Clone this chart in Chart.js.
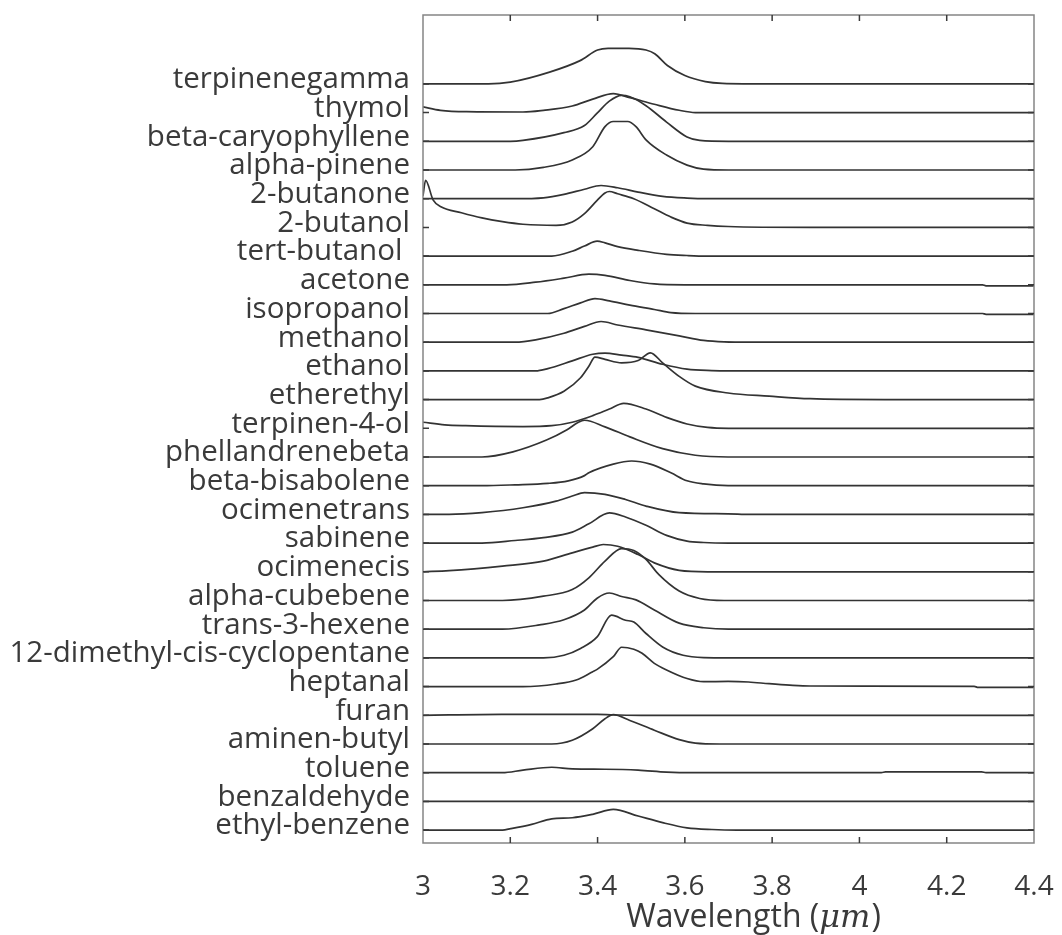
<!DOCTYPE html>
<html>
<head>
<meta charset="utf-8">
<title>Spectra</title>
<script src="https://cdn.jsdelivr.net/npm/chart.js@4.4.1/dist/chart.umd.min.js"></script>
<style>
  html, body { margin: 0; padding: 0; background: #fff; }
  #wrap { width: 1062px; height: 935px; }
</style>
</head>
<body>
<div id="wrap"><canvas id="spectra" width="1062" height="935"></canvas></div>
<script>
// compound names, top row first
var compounds = [
    'terpinenegamma', 'thymol', 'beta-caryophyllene', 'alpha-pinene', '2-butanone',
    '2-butanol', 'tert-butanol ', 'acetone', 'isopropanol', 'methanol', 'ethanol',
    'etherethyl', 'terpinen-4-ol', 'phellandrenebeta', 'beta-bisabolene', 'ocimenetrans',
    'sabinene', 'ocimenecis', 'alpha-cubebene', 'trans-3-hexene',
    '12-dimethyl-cis-cyclopentane', 'heptanal', 'furan', 'aminen-butyl', 'toluene',
    'benzaldehyde', 'ethyl-benzene'
];

var wavelengthTicks = [3, 3.2, 3.4, 3.6, 3.8, 4, 4.2, 4.4];

// [wavelength (um), signal above the row baseline]
var terpinenegamma = [[3,0],[3.15,0],[3.2,0.06],[3.29,0.41],[3.36,0.81],[3.40,1.18],[3.424,1.24],[3.472,1.24],[3.511,1.18],[3.531,1.05],[3.56,0.64],[3.6,0.29],[3.647,0.08],[3.686,0.02],[3.8,0],[4.4,0]];
var thymol = [[3,0.2],[3.04,0.08],[3.1,0.03],[3.229,0.02],[3.276,0.08],[3.342,0.23],[3.389,0.47],[3.436,0.66],[3.474,0.52],[3.53,0.29],[3.587,0.08],[3.624,0],[4.4,0]];
var betaCaryophyllene = [[3,0],[3.2,0],[3.229,0.03],[3.323,0.3],[3.37,0.55],[3.399,0.98],[3.427,1.4],[3.455,1.6],[3.474,1.55],[3.511,1.24],[3.558,0.67],[3.605,0.15],[3.634,0.03],[3.7,0],[4.4,0]];
var alphaPinene = [[3,0],[3.211,0],[3.276,0.09],[3.342,0.35],[3.389,0.81],[3.417,1.51],[3.436,1.69],[3.469,1.69],[3.488,1.51],[3.511,1.05],[3.558,0.52],[3.605,0.17],[3.643,0.03],[3.7,0],[4.4,0]];
var butanone2 = [[3,0],[3.211,0],[3.276,0.03],[3.323,0.15],[3.37,0.33],[3.408,0.46],[3.446,0.38],[3.493,0.23],[3.549,0.08],[3.605,0.02],[3.65,0],[4.4,0]];
var butanol2 = [[3,1.1],[3.006,1.64],[3.023,0.96],[3.041,0.72],[3.088,0.51],[3.135,0.33],[3.182,0.2],[3.229,0.11],[3.305,0.07],[3.342,0.19],[3.37,0.48],[3.399,0.94],[3.417,1.2],[3.427,1.25],[3.446,1.17],[3.483,1.0],[3.53,0.65],[3.568,0.36],[3.605,0.15],[3.652,0.07],[3.699,0.03],[3.887,0],[4.4,0]];
var tertButanol = [[3,0],[3.295,0],[3.342,0.17],[3.37,0.35],[3.399,0.52],[3.417,0.46],[3.446,0.33],[3.493,0.2],[3.558,0.06],[3.605,0.02],[3.65,0],[4.4,0]];
var acetone = [[3,0],[3.192,0],[3.258,0.09],[3.323,0.23],[3.38,0.37],[3.417,0.33],[3.474,0.15],[3.53,0.03],[3.6,0],[4.282,0],[4.29,-0.04],[4.4,-0.04]];
var isopropanol = [[3,0],[3.286,0],[3.323,0.17],[3.361,0.37],[3.394,0.52],[3.427,0.44],[3.474,0.29],[3.53,0.14],[3.568,0.03],[3.624,0],[4.282,0],[4.29,-0.03],[4.4,-0.03]];
var methanol = [[3,0],[3.211,0],[3.258,0.08],[3.323,0.31],[3.37,0.55],[3.408,0.72],[3.446,0.6],[3.511,0.43],[3.587,0.22],[3.643,0.06],[3.69,0.01],[3.75,0],[4.4,0]];
var ethanol = [[3,0],[3.258,0],[3.286,0.08],[3.342,0.35],[3.389,0.58],[3.417,0.62],[3.455,0.55],[3.493,0.47],[3.549,0.23],[3.605,0.06],[3.662,0.01],[3.7,0],[4.4,0]];
var etherethyl = [[3,0],[3.267,0],[3.286,0.06],[3.323,0.29],[3.361,0.76],[3.38,1.16],[3.394,1.48],[3.417,1.4],[3.455,1.28],[3.493,1.36],[3.521,1.63],[3.549,1.28],[3.587,0.81],[3.624,0.47],[3.699,0.23],[3.793,0.12],[3.887,0.03],[4.057,0],[4.4,0]];
var terpinen4ol = [[3,0.21],[3.05,0.12],[3.098,0.09],[3.229,0.06],[3.295,0.09],[3.342,0.21],[3.389,0.44],[3.427,0.67],[3.46,0.87],[3.511,0.67],[3.558,0.38],[3.605,0.15],[3.652,0.03],[3.7,0],[4.4,0]];
var phellandrenebeta = [[3,0],[3.135,0],[3.206,0.18],[3.283,0.59],[3.33,0.95],[3.355,1.2],[3.37,1.28],[3.417,1.05],[3.474,0.7],[3.549,0.29],[3.624,0.06],[3.699,0],[4.4,0]];
var betaBisabolene = [[3,0],[3.135,0],[3.211,0.03],[3.286,0.08],[3.333,0.17],[3.37,0.35],[3.38,0.45],[3.436,0.75],[3.478,0.86],[3.521,0.75],[3.568,0.45],[3.605,0.17],[3.643,0.06],[3.699,0],[4.4,0]];
var ocimenetrans = [[3,0],[3.06,0],[3.135,0.06],[3.229,0.23],[3.305,0.46],[3.342,0.64],[3.37,0.76],[3.417,0.7],[3.464,0.52],[3.511,0.29],[3.587,0.06],[3.699,0.02],[3.75,0],[4.4,0]];
var sabinene = [[3,0],[3.135,0],[3.211,0.09],[3.276,0.19],[3.342,0.38],[3.38,0.67],[3.427,1.05],[3.464,0.91],[3.511,0.62],[3.558,0.27],[3.605,0.07],[3.643,0.02],[3.7,0],[4.4,0]];
var ocimenecis = [[3,0],[3.06,0.04],[3.182,0.2],[3.276,0.37],[3.342,0.66],[3.389,0.86],[3.413,0.95],[3.446,0.89],[3.493,0.6],[3.53,0.31],[3.587,0.05],[3.652,0],[4.4,0]];
var alphaCubebene = [[3,0],[3.182,0],[3.276,0.15],[3.342,0.38],[3.38,0.79],[3.417,1.37],[3.455,1.81],[3.483,1.74],[3.511,1.43],[3.54,0.91],[3.587,0.33],[3.634,0.07],[3.69,0],[4.4,0]];
var trans3Hexene = [[3,0],[3.182,0],[3.267,0.15],[3.323,0.33],[3.37,0.67],[3.399,1.08],[3.427,1.26],[3.455,1.14],[3.488,1.02],[3.53,0.67],[3.587,0.21],[3.643,0.05],[3.7,0],[4.4,0]];
var dimethylCyclopentane = [[3,0],[3.276,0],[3.323,0.09],[3.361,0.33],[3.399,0.73],[3.432,1.49],[3.464,1.31],[3.483,1.25],[3.511,0.85],[3.549,0.38],[3.596,0.09],[3.643,0.01],[3.7,0],[4.4,0]];
var heptanal = [[3,0],[3.229,0],[3.305,0.09],[3.351,0.23],[3.389,0.52],[3.399,0.6],[3.436,1.04],[3.455,1.37],[3.483,1.3],[3.502,1.16],[3.53,0.81],[3.558,0.58],[3.605,0.28],[3.643,0.17],[3.699,0.18],[3.746,0.16],[3.793,0.1],[3.84,0.05],[3.887,0.02],[4.263,0.01],[4.272,-0.03],[4.4,-0.03]];
var furan = [[3,0],[3.18,0.03],[3.4,0.03],[3.45,0.01],[3.5,0],[4.4,0]];
var aminenButyl = [[3,0],[3.295,0],[3.342,0.13],[3.389,0.53],[3.417,0.88],[3.436,1.02],[3.474,0.82],[3.53,0.48],[3.587,0.15],[3.624,0.03],[3.68,0],[4.4,0]];
var toluene = [[3,0],[3.182,0],[3.229,0.09],[3.295,0.19],[3.342,0.13],[3.417,0.12],[3.493,0.09],[3.558,0.02],[3.62,0],[4.05,0],[4.06,0.03],[4.28,0.03],[4.29,0],[4.4,0]];
var benzaldehyde = [[3,0],[4.4,0]];
var ethylBenzene = [[3,0],[3.182,0],[3.201,0.05],[3.249,0.2],[3.295,0.39],[3.342,0.43],[3.389,0.55],[3.436,0.72],[3.493,0.49],[3.549,0.26],[3.605,0.08],[3.662,0.02],[3.72,0],[4.4,0]];

var traces = [
    terpinenegamma, thymol, betaCaryophyllene, alphaPinene, butanone2, butanol2,
    tertButanol, acetone, isopropanol, methanol, ethanol, etherethyl, terpinen4ol,
    phellandrenebeta, betaBisabolene, ocimenetrans, sabinene, ocimenecis,
    alphaCubebene, trans3Hexene, dimethylCyclopentane, heptanal, furan,
    aminenButyl, toluene, benzaldehyde, ethylBenzene
];

var labelFont = '"Open Sans", sans-serif';
var textColor = '#3a3a3a';

// each row sits one unit above the next, bottom row at 0
function rowOf(k) { return compounds.length - 1 - k; }

var datasets = traces.map(function (tr, k) {
    return {
        label: compounds[k],
        data: tr.map(function (p) { return { x: p[0], y: rowOf(k) + p[1] }; }),
        borderColor: '#333333',
        borderWidth: 1.7,
        pointRadius: 0,
        fill: false,
        cubicInterpolationMode: 'monotone'
    };
});

// box round the plot with inward tick marks on all four sides
var framePlugin = {
    id: 'frame',
    afterDatasetsDraw: function (chart) {
        var c = chart.ctx, a = chart.chartArea;
        var xs = chart.scales.x, ys = chart.scales.y;
        c.save();
        c.strokeStyle = '#858585';
        c.lineWidth = 1.5;
        c.strokeRect(a.left, a.top, a.right - a.left, a.bottom - a.top);
        c.strokeStyle = '#3a3a3a';
        c.lineWidth = 1.5;
        c.beginPath();
        wavelengthTicks.forEach(function (v, i) {
            if (i === 0 || i === wavelengthTicks.length - 1) return;
            var px = xs.getPixelForValue(v);
            c.moveTo(px, a.bottom); c.lineTo(px, a.bottom - 6);
            c.moveTo(px, a.top); c.lineTo(px, a.top + 6);
        });
        compounds.forEach(function (n, k) {
            var py = ys.getPixelForValue(rowOf(k));
            c.moveTo(a.left, py); c.lineTo(a.left + 6, py);
            c.moveTo(a.right, py); c.lineTo(a.right - 6, py);
        });
        c.stroke();
        c.restore();
    }
};

// x axis title with an italic unit
var axisTitlePlugin = {
    id: 'axisTitle',
    afterDraw: function (chart) {
        var c = chart.ctx;
        var partA = 'Wavelength (', partB = '\u03bcm', partC = ')';
        var fA = '32px ' + labelFont, fB = 'italic 32px "DejaVu Serif", serif';
        c.save();
        c.fillStyle = textColor;
        c.textBaseline = 'middle';
        c.font = fA; var wA = c.measureText(partA).width; var wC = c.measureText(partC).width;
        c.font = fB; var wB = c.measureText(partB).width;
        var x0 = 753 - (wA + wB + wC) / 2, y0 = 918;
        c.font = fA; c.fillText(partA, x0, y0);
        c.font = fB; c.fillText(partB, x0 + wA, y0 + 1);
        c.font = fA; c.fillText(partC, x0 + wA + wB + 1, y0);
        c.restore();
    }
};

var chart = new Chart(document.getElementById('spectra').getContext('2d'), {
    type: 'line',
    data: { datasets: datasets },
    options: {
        responsive: false,
        animation: false,
        layout: { padding: { left: 0, top: 15, right: 28, bottom: 0 } },
        plugins: { legend: { display: false }, tooltip: { enabled: false } },
        scales: {
            x: {
                type: 'linear',
                min: 3,
                max: 4.4,
                grid: { display: false },
                border: { display: false },
                afterBuildTicks: function (s) { s.ticks = wavelengthTicks.map(function (v) { return { value: v }; }); },
                afterFit: function (s) { s.height = 92; s.paddingLeft = 0; s.paddingRight = 0; },
                ticks: {
                    padding: 19,
                    color: textColor,
                    font: { family: labelFont, size: 28 },
                    maxRotation: 0,
                    callback: function (v) { return String(Number(v.toFixed(1))); }
                }
            },
            y: {
                type: 'linear',
                min: -0.45,
                max: 28.4,
                grid: { display: false },
                border: { display: false },
                afterBuildTicks: function (s) { s.ticks = compounds.map(function (n, k) { return { value: rowOf(k) }; }); },
                afterFit: function (s) { s.width = 423; s.paddingTop = 0; s.paddingBottom = 0; },
                ticks: {
                    padding: 5,
                    labelOffset: -4,
                    color: textColor,
                    font: { family: labelFont, size: 29.5 },
                    autoSkip: false,
                    callback: function (v) { return compounds[compounds.length - 1 - v]; }
                }
            }
        }
    },
    plugins: [framePlugin, axisTitlePlugin]
});
</script>
</body>
</html>
